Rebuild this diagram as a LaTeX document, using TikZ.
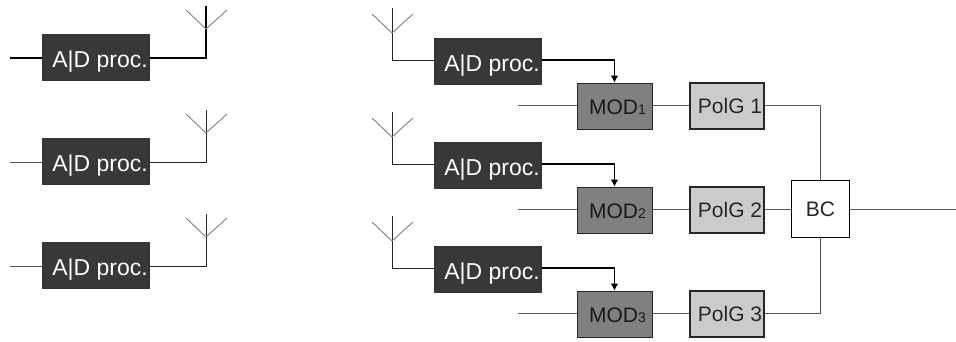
\documentclass[tikz,border=0pt]{standalone}
\usepackage{fontspec}
\setmainfont{Liberation Sans}
\usetikzlibrary{arrows.meta}
\tikzset{
    adbox/.style={draw=black!80, fill=black!78, text=white, minimum width=107pt, minimum height=46pt, inner sep=0pt, line width=1pt, font=\fontsize{23}{23}\selectfont},
    modbox/.style={draw=black!85, fill=black!50, text=black!90, minimum width=75pt, minimum height=46pt, inner sep=0pt, line width=1pt, font=\fontsize{21}{21}\selectfont},
    polbox/.style={draw=black!85, fill=black!20, text=black!85, minimum width=74pt, minimum height=46pt, inner sep=0pt, line width=1.2pt, font=\fontsize{21}{21}\selectfont},
    bcbox/.style={draw=black, fill=white, text=black!85, minimum width=58pt, minimum height=57pt, inner sep=0pt, line width=1.2pt, font=\fontsize{21}{21}\selectfont},
    heavy/.style={draw=black, line width=1.4pt},
    wire/.style={draw=black!65, line width=1pt},
    arm/.style={draw=black!50, line width=0.9pt}
}
\newcommand{\adtext}{\hspace*{9pt}\raisebox{-10pt}[0pt][0pt]{A|D proc.}}
\newcommand{\modtext}[1]{\hspace*{6pt}\raisebox{-8pt}[0pt][0pt]{MOD{\fontsize{14}{14}\selectfont #1}}}
\newcommand{\poltext}[1]{\hspace*{6pt}\raisebox{-7pt}[0pt][0pt]{PolG #1}}
\begin{document}
\begin{tikzpicture}[x=1pt,y=-1pt]
    \useasboundingbox (0,0) rectangle (956,341);
    % transmit side
    \node[adbox] (adl1) at (95.5,57) {\adtext};
    \node[adbox] (adl2) at (95.5,161) {\adtext};
    \node[adbox] (adl3) at (95.5,265) {\adtext};
    \coordinate (inl1) at (10,58);
    \coordinate (inl2) at (10,162);
    \coordinate (inl3) at (10,266);
    \coordinate (topl1) at (206,6);
    \coordinate (topl2) at (206,110);
    \coordinate (topl3) at (206,214);
    \coordinate (basl1) at (206,29);
    \coordinate (basl2) at (206,133);
    \coordinate (basl3) at (206,237);
    \draw[heavy] (inl1) -- (adl1.west |- inl1);
    \draw[wire] (inl2) -- (adl2.west |- inl2);
    \draw[wire] (inl3) -- (adl3.west |- inl3);
    \draw[heavy] (adl1.east |- inl1) -| (topl1);
    \draw[wire,draw=black!85] (adl2.east |- inl2) -| (topl2);
    \draw[wire,draw=black!85] (adl3.east |- inl3) -| (topl3);
    \draw[arm] (186,10) -- (basl1) -- (227,10);
    \draw[arm] (186,114) -- (basl2) -- (227,114);
    \draw[arm] (186,218) -- (basl3) -- (227,218);
    % receive side
    \node[adbox] (adr1) at (487.5,61) {\adtext};
    \node[adbox] (adr2) at (487.5,165) {\adtext};
    \node[adbox] (adr3) at (487.5,269) {\adtext};
    \node[modbox] (mod1) at (614.5,106) {\modtext{1}};
    \node[modbox] (mod2) at (614.5,210) {\modtext{2}};
    \node[modbox] (mod3) at (614.5,314) {\modtext{3}};
    \node[polbox] (pol1) at (727,106) {\poltext{1}};
    \node[polbox] (pol2) at (727,210) {\poltext{2}};
    \node[polbox] (pol3) at (727,314) {\poltext{3}};
    \node[bcbox] (bc) at (820.5,209) {BC};
    \coordinate (topr1) at (392,8);
    \coordinate (topr2) at (392,112);
    \coordinate (topr3) at (392,216);
    \coordinate (basr1) at (392,33);
    \coordinate (basr2) at (392,137);
    \coordinate (basr3) at (392,241);
    \coordinate (inr1) at (518,105);
    \coordinate (inr2) at (518,209);
    \coordinate (inr3) at (518,313);
    \coordinate (outr) at (956,209);
    \draw[wire,draw=black!85] (topr1) |- (adr1.west |- 0,60);
    \draw[wire,draw=black!85] (topr2) |- (adr2.west |- 0,164);
    \draw[wire,draw=black!85] (topr3) |- (adr3.west |- 0,268);
    \draw[arm] (372,14) -- (basr1) -- (413,14);
    \draw[arm] (372,118) -- (basr2) -- (413,118);
    \draw[arm] (372,222) -- (basr3) -- (413,222);
    \draw[heavy,-{Latex[length=7pt,width=8pt]}] (adr1.east |- 0,60) -| (mod1.north);
    \draw[heavy,-{Latex[length=7pt,width=8pt]}] (adr2.east |- 0,164) -| (mod2.north);
    \draw[heavy,-{Latex[length=7pt,width=8pt]}] (adr3.east |- 0,268) -| (mod3.north);
    \draw[wire] (inr1) -- (mod1.west |- inr1);
    \draw[wire] (inr2) -- (mod2.west |- inr2);
    \draw[wire] (inr3) -- (mod3.west |- inr3);
    \draw[wire] (mod1.east |- inr1) -- (pol1.west |- inr1);
    \draw[wire] (mod2.east |- inr2) -- (pol2.west |- inr2);
    \draw[wire] (mod3.east |- inr3) -- (pol3.west |- inr3);
    \draw[wire] (pol1.east |- inr1) -| (bc.north);
    \draw[wire] (pol2.east |- inr2) -- (bc.west |- inr2);
    \draw[wire] (pol3.east |- inr3) -| (bc.south);
    \draw[wire] (bc.east |- outr) -- (outr);
\end{tikzpicture}
\end{document}
